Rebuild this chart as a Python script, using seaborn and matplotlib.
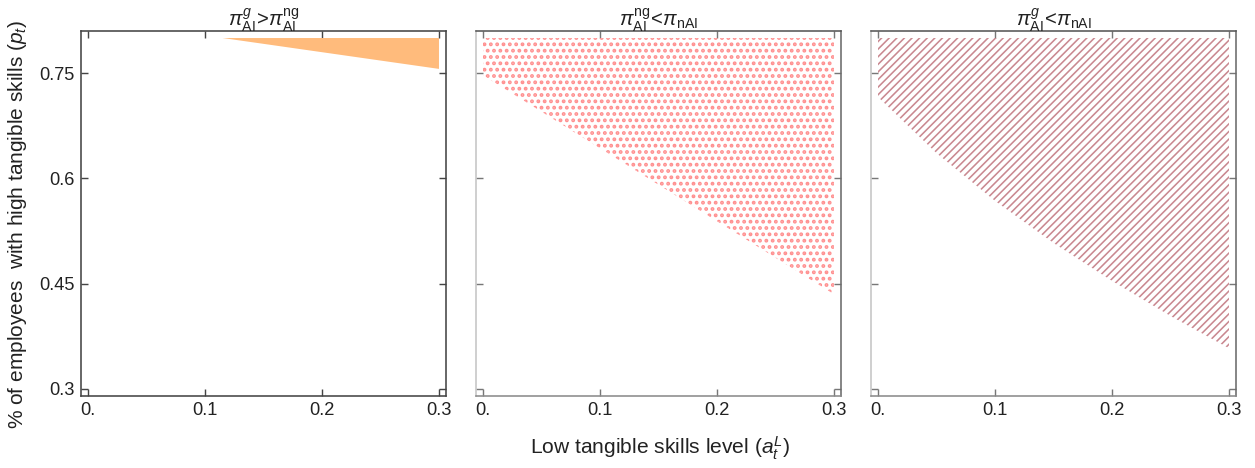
import numpy as np
import matplotlib
matplotlib.use("Agg")
import matplotlib.pyplot as plt
import seaborn as sns

# Boundaries of the regions where each profit comparison holds
# (a = low tangible skills level, p = share of employees with high tangible skills)
a_orange = [0.115, 0.15, 0.20, 0.25, 0.30]
p_orange = [0.800, 0.7917, 0.7798, 0.7679, 0.756]

a_dots = [0.00, 0.05, 0.10, 0.15, 0.20, 0.25, 0.30]
p_dots = [0.747, 0.695, 0.643, 0.591, 0.539, 0.487, 0.435]

a_lines = [0.00, 0.05, 0.10, 0.15, 0.20, 0.25, 0.30]
p_lines = [0.716, 0.636, 0.568, 0.508, 0.454, 0.404, 0.358]

p_top = 0.80

x_ticks = [0.0, 0.1, 0.2, 0.3]
x_labels = ["0.", "0.1", "0.2", "0.3"]
y_ticks = [0.3, 0.45, 0.6, 0.75]
y_labels = ["0.3", "0.45", "0.6", "0.75"]

titles = [
    r"$\pi^{g}_{\mathrm{AI}}\!>\!\pi^{\mathrm{ng}}_{\mathrm{AI}}$",
    r"$\pi^{\mathrm{ng}}_{\mathrm{AI}}\!<\!\pi_{\mathrm{nAI}}$",
    r"$\pi^{g}_{\mathrm{AI}}\!<\!\pi_{\mathrm{nAI}}$",
]

sns.set_theme(style="ticks")
plt.rcParams["font.family"] = ["Liberation Sans", "DejaVu Sans"]
plt.rcParams["mathtext.fontset"] = "custom"
plt.rcParams["mathtext.rm"] = "Liberation Sans"
plt.rcParams["mathtext.it"] = "Liberation Sans:italic"
plt.rcParams["mathtext.bf"] = "Liberation Sans:bold"

DPI = 114
fig = plt.figure(figsize=(1255 / DPI, 468 / DPI), dpi=DPI)

W, H = 1255, 468
lefts = [81, 476, 871]
ax_w, top, bottom = 365, 31, 396
axes = [fig.add_axes([l / W, 1 - bottom / H, ax_w / W, (bottom - top) / H]) for l in lefts]

for i, ax in enumerate(axes):
    ax.set_xlim(-0.006, 0.306)
    ax.set_ylim(0.29, 0.81)
    ax.set_xticks(x_ticks)
    ax.set_yticks(y_ticks)
    ax.tick_params(direction="in", length=4.5, width=0.9, top=True, right=True,
                   labelsize=11.5, labelcolor="#222222", pad=4)
    ax.set_xticklabels(x_labels)
    if i == 0:
        ax.set_yticklabels(y_labels)
        spine_cols = {"left": "#444444", "right": "#444444", "top": "#444444", "bottom": "#444444"}
        tick_col = "#444444"
    else:
        ax.set_yticklabels([])
        spine_cols = {"left": "#c4c4c4", "right": "#6a6a6a", "top": "#555555", "bottom": "#8a8a8a"}
        tick_col = "#777777"
    for side, c in spine_cols.items():
        ax.spines[side].set_visible(True)
        ax.spines[side].set_color(c)
        ax.spines[side].set_linewidth(1.0)
    ax.tick_params(axis="both", color=tick_col)
    ax.set_title(titles[i], fontsize=12.8, pad=3, color="#222222")
    ax.set_facecolor("white")

# Panel 1: solid orange wedge
axes[0].fill_between(a_orange, p_orange, p_top, facecolor="#ffbb7c",
                     edgecolor="none", linewidth=0)

# Panel 2: dotted region
with plt.rc_context({"hatch.linewidth": 1.6}):
    axes[1].fill_between(a_dots, p_dots, p_top, facecolor="none",
                         edgecolor="#ff8f8f", hatch="...", linewidth=0)

# Panel 3: diagonally hatched region
with plt.rc_context({"hatch.linewidth": 1.0}):
    axes[2].fill_between(a_lines, p_lines, p_top, facecolor="none",
                         edgecolor="#c98890", hatch="/////", linewidth=0)

fig.text(18 / W, 1 - 224 / H, r"% of employees  with high tangible skills ($p_t$)",
         rotation=90, ha="center", va="center", fontsize=13.2, color="#222222")
fig.text(660 / W, 1 - 448 / H, r"Low tangible skills level ($a_t^L$)",
         ha="center", va="center", fontsize=13.3, color="#222222")

fig.savefig("out.png", dpi=DPI, facecolor="white")
